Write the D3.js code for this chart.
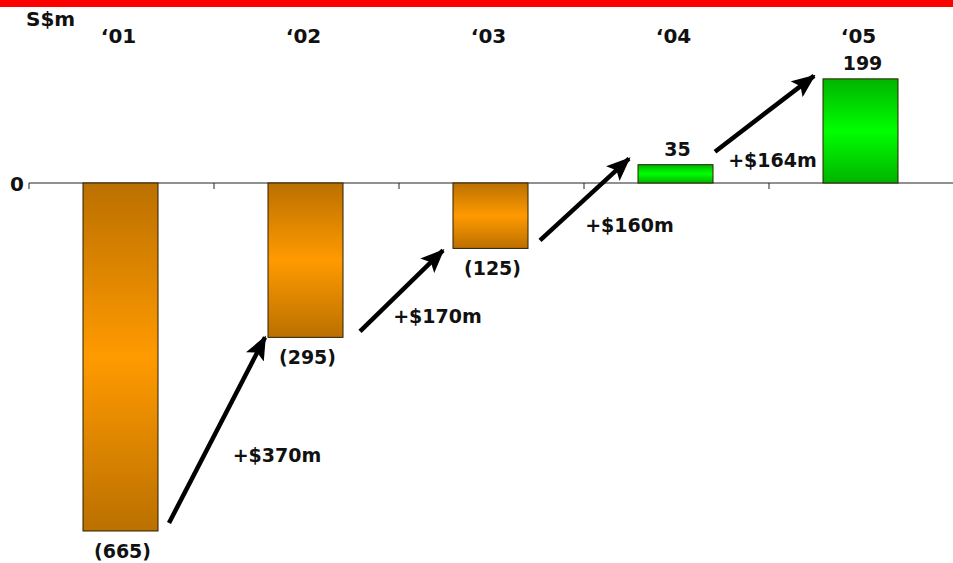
<!DOCTYPE html>
<html>
<head>
<meta charset="utf-8">
<script src="https://cdn.jsdelivr.net/npm/d3@7"></script>
<style>
  body { margin: 0; background: #fff; }
  svg { display: block; font-family: Verdana, "DejaVu Sans", sans-serif; font-weight: bold; }
  text { fill: #111; }
</style>
</head>
<body>
<svg id="chart" width="953" height="563"></svg>
<script>
// data
const years = ["‘01", "‘02", "‘03", "‘04", "‘05"];
const values = [-665, -295, -125, 35, 199];
const valueLabels = ["(665)", "(295)", "(125)", "35", "199"];
const changeLabels = ["+$370m", "+$170m", "+$160m", "+$164m"];

const width = 953, height = 563;
const svg = d3.select("#chart");

// top red band
svg.append("rect").attr("x", 0).attr("y", 0).attr("width", width).attr("height", 7).attr("fill", "#ff0000");

const x = d3.scaleBand().domain(years).range([29, 954]).paddingInner(0).paddingOuter(0);
const y = d3.scaleLinear().domain([-700, 300]).range([183 + 700 * 0.5233, 183 - 300 * 0.5233]);
const barW = 75;
const barX = d => x(d) + (x.bandwidth() - barW) / 2 - 1;

// gradients
const defs = svg.append("defs");
function grad(id, edge, mid) {
  const g = defs.append("linearGradient").attr("id", id).attr("x1", 0).attr("y1", 0).attr("x2", 0).attr("y2", 1);
  g.append("stop").attr("offset", "0%").attr("stop-color", edge);
  g.append("stop").attr("offset", "50%").attr("stop-color", mid);
  g.append("stop").attr("offset", "100%").attr("stop-color", edge);
}
grad("gOrange", "#bb7000", "#ff9a00");
grad("gGreen", "#00b400", "#00ff00");

defs.append("marker")
  .attr("id", "head")
  .attr("markerUnits", "userSpaceOnUse")
  .attr("viewBox", "0 0 24 20")
  .attr("refX", 22).attr("refY", 10)
  .attr("markerWidth", 24).attr("markerHeight", 20)
  .attr("orient", "auto")
  .append("path").attr("d", "M0,0 L24,10 L0,20 L5,10 Z").attr("fill", "#000");

// zero axis
const axis = svg.append("g").attr("transform", `translate(0,${y(0)})`)
  .call(d3.axisBottom(x).tickSize(0).tickFormat(""));
axis.select(".domain").attr("stroke", "#222").attr("d", `M29,0H953`);
axis.selectAll(".tick").remove();
x.domain().concat(["end"]).forEach((d, i) => {
  const tx = i < years.length ? x(d) : x(years[years.length - 1]) + x.bandwidth();
  axis.append("line").attr("x1", tx).attr("x2", tx).attr("y1", 0).attr("y2", 6).attr("stroke", "#222");
});

svg.append("text").attr("x", 24).attr("y", y(0) + 8).attr("text-anchor", "end")
  .attr("font-size", 20).text("0");
svg.append("text").attr("x", 26).attr("y", 26).attr("font-size", 20).text("S$m");

// year labels
svg.selectAll(".yr").data(years).enter().append("text")
  .attr("x", d => x(d) + x.bandwidth() / 2 - 3)
  .attr("y", 43)
  .attr("text-anchor", "middle")
  .attr("font-size", 20)
  .text(d => d);

// bars
svg.selectAll(".bar").data(values).enter().append("rect")
  .attr("x", (d, i) => barX(years[i]))
  .attr("y", d => y(Math.max(0, d)))
  .attr("width", barW)
  .attr("height", d => Math.abs(y(d) - y(0)))
  .attr("fill", d => d < 0 ? "url(#gOrange)" : "url(#gGreen)")
  .attr("stroke", "#2a1e00")
  .attr("stroke-width", 1);

// value labels
svg.selectAll(".val").data(values).enter().append("text")
  .attr("x", (d, i) => x(years[i]) + x.bandwidth() / 2 + 1)
  .attr("y", d => d < 0 ? y(d) + 27 : y(d) - 9)
  .attr("text-anchor", "middle")
  .attr("font-size", 19)
  .text((d, i) => valueLabels[i]);

// arrows between bar ends
const startOff = [[11, -8], [17, -6], [12, -8], [2, -13]];
const endOff = [[-3, 0], [-10, 2], [-9, -6], [-9, -3]];
const labelOff = [[60, 26], [36, 26], [45, 26], [8, 47]];
changeLabels.forEach((lab, i) => {
  const x1 = barX(years[i]) + barW + startOff[i][0];
  const y1 = y(values[i]) + startOff[i][1];
  const x2 = barX(years[i + 1]) + endOff[i][0];
  const y2 = y(values[i + 1]) + endOff[i][1];
  svg.append("line")
    .attr("x1", x1).attr("y1", y1).attr("x2", x2).attr("y2", y2)
    .attr("stroke", "#000").attr("stroke-width", 4.5)
    .attr("marker-end", "url(#head)");
  svg.append("text")
    .attr("x", (x1 + x2) / 2 + labelOff[i][0])
    .attr("y", (y1 + y2) / 2 + labelOff[i][1] + 6)
    .attr("text-anchor", "middle")
    .attr("font-size", 19)
    .text(lab);
});
</script>
</body>
</html>
